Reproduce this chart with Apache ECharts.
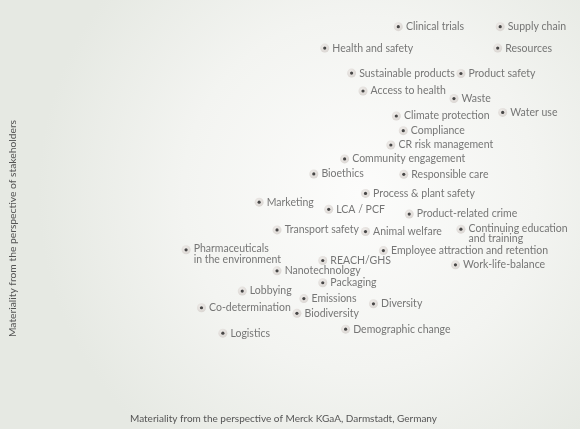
<!DOCTYPE html>
<html>
<head>
<meta charset="utf-8">
<script src="https://cdn.jsdelivr.net/npm/echarts@6/dist/echarts.min.js"></script>
<style>
html,body{margin:0;padding:0;background:#fff;}
#chart{width:580px;height:429px;}
</style>
</head>
<body>
<div id="chart"></div>
<script>
// Topics (labels)
var topics = [
  "Clinical trials", "Supply chain", "Health and safety", "Resources",
  "Sustainable products", "Product safety", "Access to health", "Waste",
  "Climate protection", "Water use", "Compliance", "CR risk management",
  "Community engagement", "Bioethics", "Responsible care", "Process & plant safety",
  "Marketing", "LCA / PCF", "Product-related crime", "Transport safety",
  "Animal welfare", "Continuing education\nand training", "Pharmaceuticals\nin the environment",
  "Employee attraction and retention", "REACH/GHS", "Work-life-balance",
  "Nanotechnology", "Packaging", "Lobbying", "Emissions", "Diversity",
  "Co-determination", "Biodiversity", "Demographic change", "Logistics"
];
// Materiality from the perspective of Merck KGaA (x)
var companyScore = [
  7.35, 9.40, 5.87, 9.35,
  6.41, 8.61, 6.64, 8.47,
  7.31, 9.45, 7.45, 7.20,
  6.27, 5.65, 7.46, 6.69,
  4.55, 5.95, 7.57, 4.91,
  6.69, 8.61, 3.08,
  7.05, 5.83, 8.50,
  4.91, 5.83, 4.21, 5.45, 6.85,
  3.39, 5.31, 6.29, 3.82
];
// Materiality from the perspective of stakeholders (y)
var stakeholderScore = [
  9.58, 9.58, 9.04, 9.04,
  8.41, 8.40, 7.96, 7.77,
  7.33, 7.42, 6.96, 6.60,
  6.25, 5.87, 5.86, 5.38,
  5.16, 4.98, 4.86, 4.46,
  4.42, 4.48, 3.96,
  3.94, 3.69, 3.58,
  3.43, 3.13, 2.92, 2.73, 2.60,
  2.50, 2.36, 1.96, 1.86
];
var xTitle = "Materiality from the perspective of Merck KGaA, Darmstadt, Germany";
var yTitle = "Materiality from the perspective of stakeholders";

var points = topics.map(function (t, i) {
  var item = { name: t, value: [companyScore[i], stakeholderScore[i]] };
  if (t.indexOf("\n") >= 0) {
    item.label = { verticalAlign: "top", offset: [0, -6] };
  }
  return item;
});

var chart = echarts.init(document.getElementById("chart"));
var FONT = "Lato";
chart.setOption({
  backgroundColor: {
    type: "radial", x: 0.62, y: 0.45, r: 0.75,
    colorStops: [
      { offset: 0, color: "#fcfcfb" },
      { offset: 0.55, color: "#f3f4f1" },
      { offset: 1, color: "#e6e9e3" }
    ]
  },
  animation: false,
  grid: { left: 30, top: 10, width: 500, height: 400 },
  xAxis: {
    type: "value", min: 0, max: 10,
    axisLine: { show: false }, axisTick: { show: false },
    axisLabel: { show: false }, splitLine: { show: false },
    name: xTitle, nameLocation: "middle", nameGap: 7,
    nameTextStyle: { color: "#555", fontFamily: FONT, fontSize: 10, padding: [0, 0, 0, 4] }
  },
  yAxis: {
    type: "value", min: 0, max: 10,
    axisLine: { show: false }, axisTick: { show: false },
    axisLabel: { show: false }, splitLine: { show: false },
    name: yTitle, nameLocation: "middle", nameGap: 15,
    nameTextStyle: { color: "#555", fontFamily: FONT, fontSize: 10.3, padding: [0, 40, 0, 0] }
  },
  series: [
    {
      type: "scatter", data: points, symbolSize: 9, silent: true,
      itemStyle: {
        color: {
          type: "radial", x: 0.4, y: 0.35, r: 0.7,
          colorStops: [{ offset: 0, color: "#eeeae7" }, { offset: 1, color: "#d2ccc8" }]
        }
      },
      z: 2
    },
    {
      type: "scatter", data: points, symbolSize: 3.2,
      itemStyle: { color: "#1e1e1e" },
      label: {
        show: true, position: "right", distance: 6,
        formatter: "{b}", color: "#555", fontFamily: FONT, fontSize: 10.5,
        lineHeight: 10.5
      },
      z: 3
    }
  ]
});
</script>
</body>
</html>
